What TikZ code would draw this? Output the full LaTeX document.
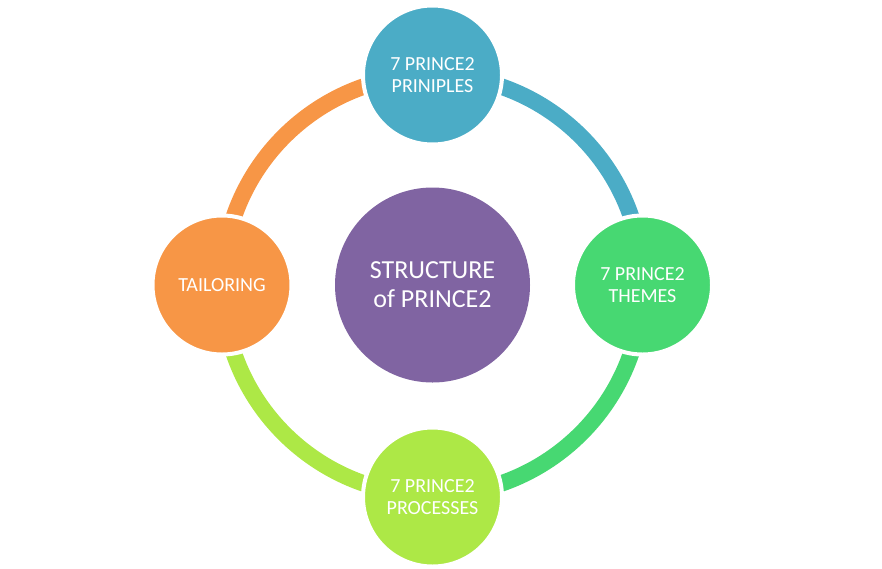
\documentclass[tikz,border=0pt]{standalone}
\usepackage{fontspec}
\setmainfont{Carlito}
\definecolor{cblue}{HTML}{4BACC6}
\definecolor{cgreen}{HTML}{47D872}
\definecolor{clime}{HTML}{ADE846}
\definecolor{corange}{HTML}{F79646}
\definecolor{cpurple}{HTML}{8064A2}
\begin{document}
\begin{tikzpicture}[x=1pt,y=-1pt,
  ring/.style={line width=16.5pt},
  bub/.style={circle, draw=white, line width=4pt, minimum size=139pt, inner sep=0pt,
    text=white, align=center, font=\fontsize{20}{22}\selectfont},
  hub/.style={circle, minimum size=195pt, inner sep=0pt, fill=cpurple,
    text=white, align=center, font=\fontsize{26}{29}\selectfont}]
\useasboundingbox (0,0) rectangle (882,568);
\coordinate (c) at (432.5,285);
\draw[ring, cblue] ([shift={(0,-210)}]c) arc[start angle=-90, end angle=0, radius=210];
\draw[ring, cgreen] ([shift={(210,0)}]c) arc[start angle=0, end angle=90, radius=210];
\draw[ring, clime] ([shift={(0,210)}]c) arc[start angle=90, end angle=180, radius=210];
\draw[ring, corange] ([shift={(-210,0)}]c) arc[start angle=180, end angle=270, radius=210];
\node[hub] (h) at (c) {STRUCTURE\\of PRINCE2};
\node[bub, fill=cblue] (t) at (432.5,75) {7 PRINCE2\\PRINIPLES};
\node[bub, fill=cgreen] (r) at (642.5,285) {7 PRINCE2\\THEMES};
\node[bub, fill=clime] (b) at (432.5,497) {7 PRINCE2\\PROCESSES};
\node[bub, fill=corange] (l) at (222,285) {TAILORING};
\end{tikzpicture}
\end{document}
